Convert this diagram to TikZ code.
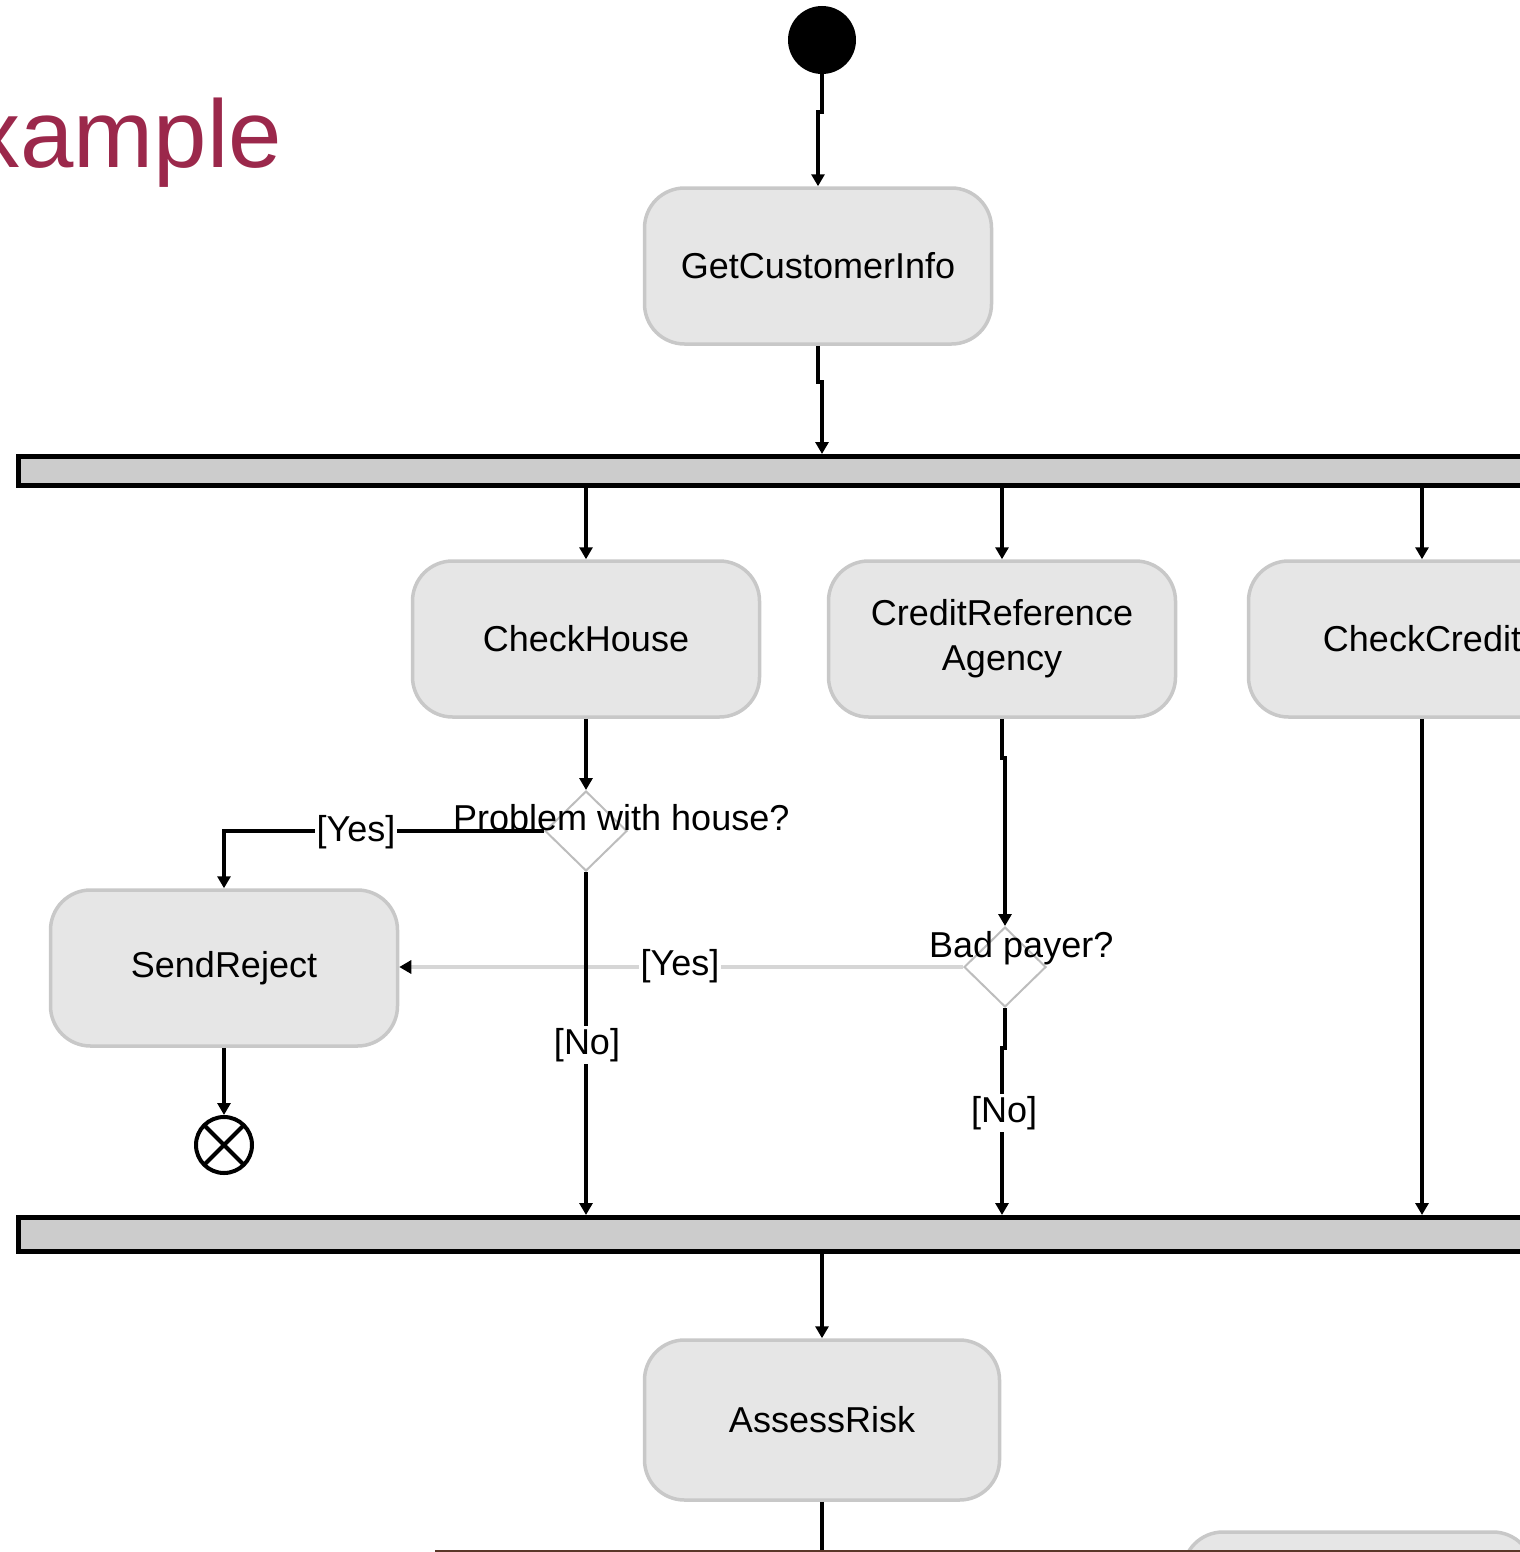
\documentclass[tikz,border=0pt]{standalone}
\usepackage{fontspec}
\setmainfont{Liberation Sans}
\usetikzlibrary{arrows.meta,shapes.geometric,calc}
\definecolor{boxfill}{HTML}{E6E6E6}
\definecolor{boxline}{HTML}{C8C8C8}
\definecolor{barfill}{HTML}{CCCCCC}
\definecolor{titlered}{RGB}{155,40,75}
\definecolor{guardline}{HTML}{D6D6D6}
\definecolor{diamline}{HTML}{BDBDBD}
\definecolor{edgebrown}{RGB}{90,55,40}

\begin{document}
\begin{tikzpicture}[x=1pt,y=-1pt,
  every node/.style={font=\fontsize{36}{47}\selectfont},
  action/.style={draw=boxline, fill=boxfill, line width=3.5pt, rounded corners=40pt,
    minimum width=347pt, minimum height=156pt, align=center, inner sep=0pt},
  syncbar/.style={draw=black, fill=barfill, line width=5pt, inner sep=0pt, anchor=west},
  decision/.style={diamond, draw=diamline, fill=white, line width=2pt,
    minimum width=82pt, minimum height=80pt, inner sep=0pt},
  flow/.style={line width=4.5pt, -{Triangle[length=12pt,width=13pt]}},
  guardflow/.style={draw=guardline, line width=4pt, -{Triangle[length=12pt,width=13pt,color=black]}},
  plain/.style={line width=4.5pt},
  guard/.style={fill=white, inner sep=2pt},
  question/.style={inner sep=0pt, anchor=base west},
  startstate/.style={circle, fill=black, minimum size=68pt, inner sep=0pt},
  flowfinal/.style={circle, draw=black, line width=4pt, minimum size=56pt, inner sep=0pt,
    path picture={\draw[line width=4pt] (path picture bounding box.north west) -- (path picture bounding box.south east)
      (path picture bounding box.north east) -- (path picture bounding box.south west);}}
]
\useasboundingbox (0,0) rectangle (1519,1552);

% slide title
\node[text=titlered, font=\fontsize{96}{110}\selectfont, inner sep=0pt, anchor=base east] (title) at (282,167) {xample};

% states
\node[startstate] (init) at (822,40) {};
\node[action] (get) at (818,266) {GetCustomerInfo};
\node[syncbar, minimum width=1560pt, minimum height=29pt] (fork) at (16,471) {};
\node[action] (house) at (586,639) {CheckHouse};
\node[action] (credit) at (1002,639) {CreditReference\\[-2pt]Agency};
\node[action] (ccheck) at (1422,639) {CheckCredit};
\node[decision] (d1) at (586,831) {};
\node[decision] (d2) at (1005,967) {};
\node[action] (send) at (224,968) {SendReject};
\node[flowfinal] (final) at (224,1145) {};
\node[syncbar, minimum width=1560pt, minimum height=34pt] (join) at (16,1234.5) {};
\node[action, minimum width=355pt, minimum height=160pt] (assess) at (822,1420) {AssessRisk};
\node[action, minimum width=350pt] (next) at (1358,1610) {};
\coordinate (down) at (822,1560);

% control flows
\draw[flow] (init.south) -- ++(0,38) -| (get.north);
\draw[flow] (get.south) -- ++(0,36) -| (init |- fork.north);
\draw[flow] (house |- fork.south) -- (house.north);
\draw[flow] (credit |- fork.south) -- (credit.north);
\draw[flow] (ccheck |- fork.south) -- (ccheck.north);
\draw[flow] (house.south) -- (d1.north);
\draw[flow] (d1.west) -| (send.north);
\draw[guardflow] (d2.west) -- (d2.west -| send.east);
\draw[flow] (d1.south) -- (d1 |- join.north);
\draw[flow] (credit.south) -- ++(0,39) -| (d2.north);
\draw[flow] (d2.south) -- ++(0,40) -| (credit |- join.north);
\draw[flow] (ccheck.south) -- (ccheck |- join.north);
\draw[flow] (send.south) -- (final.north);
\draw[flow] (assess |- join.south) -- (assess.north);
\draw[plain] (assess.south) -- (down);

% edge of the next bar below
\draw[edgebrown, line width=2pt] (435,1551) -- (1530,1551);

% guards and decision texts
\node[guard] (yes1) at (356,832) {[Yes]};
\node[guard] (yes2) at (680,966) {[Yes]};
\node[guard] (no1) at (587,1045) {[No]};
\node[guard] (no2) at (1004,1113) {[No]};
\node[question] (q1) at (453,830) {Problem with house?};
\node[question] (q2) at (929,957) {Bad payer?};
\end{tikzpicture}
\end{document}
